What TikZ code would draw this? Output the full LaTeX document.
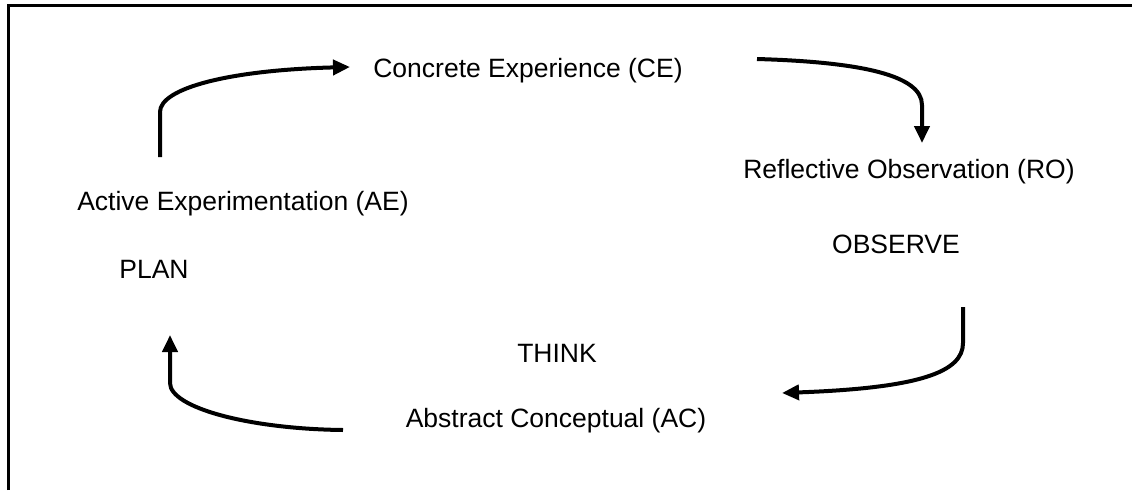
\documentclass[tikz,border=0pt]{standalone}
\usepackage{fontspec}
\setmainfont{Liberation Sans}
\usetikzlibrary{arrows.meta,positioning,calc}

\begin{document}
\begin{tikzpicture}[x=1pt, y=-1pt, font=\fontsize{26.5}{32}\selectfont,
    >={Triangle[length=17pt,width=15pt]}]
  \useasboundingbox (0,0) rectangle (1132,490);
  \tikzset{lbl/.style={inner sep=0pt, anchor=base},
           cyc/.style={->, line width=4pt, line join=round}}
  % frame: only the top and left edges show
  \draw[line width=3pt] (8.7,490) -- (8.7,5.5) -- (1132,5.5);

  \node[lbl] (ce)  at (528,77)  {Concrete Experience (CE)};
  \node[lbl] (ro)  at (909,178) {Reflective Observation (RO)};
  \node[lbl] (obs) at (896,253) {OBSERVE};
  \node[lbl] (ac)  at (556,427) {Abstract Conceptual (AC)};
  \node[lbl] (thk) at (557,362) {THINK};
  \node[lbl] (ae)  at (243,210) {Active Experimentation (AE)};
  \node[lbl] (pln) at (154,278) {PLAN};

  % ends of the four cycle arrows
  \coordinate (aeOut) at (160,157);  \coordinate (ceIn)  at (350,67);
  \coordinate (ceOut) at (757,59);   \coordinate (roIn)  at (922,143);
  \coordinate (roOut) at (963,307);  \coordinate (acIn)  at (782,393);
  \coordinate (acOut) at (343,430);  \coordinate (aeIn)  at (170,335);

  \draw[cyc] (aeOut) -- (160,112) .. controls (160,88) and (230,70) .. (ceIn);
  \draw[cyc] (ceOut) .. controls (860,62) and (922,75) .. (922,105) -- (roIn);
  \draw[cyc] (roOut) -- (963,343) .. controls (963,372) and (920,388) .. (acIn);
  \draw[cyc] (acOut) .. controls (250,429) and (170,408) .. (170,383) -- (aeIn);
\end{tikzpicture}
\end{document}
